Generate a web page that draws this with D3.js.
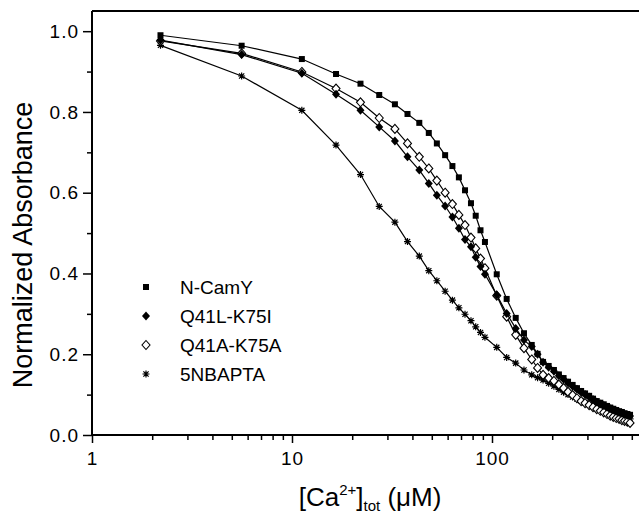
<!DOCTYPE html>
<html>
<head>
<meta charset="utf-8">
<script src="https://cdnjs.cloudflare.com/ajax/libs/d3/7.8.5/d3.min.js"></script>
<style>
  body { margin: 0; background: #fff; }
  svg { display: block; font-family: "Liberation Sans", Arial, sans-serif; }
  .axis path, .axis line { stroke: #000; }
  .axis text { font-size: 19px; fill: #000; letter-spacing: 1px; }
  .series-line { fill: none; stroke: #000; stroke-width: 1.2; }
</style>
</head>
<body>
<div id="figure"></div>
<script>
// titration points, total Ca (uM)
const caTotal = [2.2, 5.6, 11.2, 16.6, 22.0, 27.3, 32.7, 37.8, 43.3, 48.3,
  53.0, 58.3, 63.4, 68.3, 73.3, 78.5, 82.9, 87.6, 92.2, 105.6,
  118.4, 131.4, 144.5, 158, 169, 180, 192, 204, 216, 228,
  240, 253, 266, 279, 292, 306, 320, 334, 348, 362,
  376, 390, 404, 418, 432, 446, 460, 475, 490];

const nCamY = [0.990, 0.964, 0.931, 0.894, 0.870, 0.842, 0.819, 0.795, 0.773, 0.748,
  0.722, 0.693, 0.666, 0.638, 0.606, 0.574, 0.543, 0.507, 0.478, 0.398,
  0.337, 0.290, 0.252, 0.223, 0.201, 0.181, 0.171, 0.161, 0.150, 0.141,
  0.132, 0.124, 0.116, 0.109, 0.103, 0.097, 0.090, 0.084, 0.080, 0.076,
  0.072, 0.068, 0.065, 0.062, 0.059, 0.057, 0.054, 0.052, 0.050];

const q41lK75i = [0.978, 0.942, 0.896, 0.844, 0.804, 0.763, 0.728, 0.689, 0.656, 0.623,
  0.594, 0.567, 0.540, 0.512, 0.484, 0.466, 0.440, 0.417, 0.398, 0.347,
  0.301, 0.264, 0.235, 0.219, 0.200, 0.180, 0.168, 0.158, 0.147, 0.138,
  0.129, 0.121, 0.113, 0.106, 0.100, 0.094, 0.088, 0.082, 0.077, 0.073,
  0.069, 0.065, 0.062, 0.059, 0.056, 0.054, 0.051, 0.049, 0.047];

const q41aK75a = [0.976, 0.945, 0.899, 0.858, 0.824, 0.785, 0.758, 0.722, 0.689, 0.660,
  0.630, 0.600, 0.572, 0.545, 0.520, 0.489, 0.462, 0.437, 0.413, 0.345,
  0.293, 0.248, 0.215, 0.187, 0.166, 0.149, 0.141, 0.134, 0.125, 0.116,
  0.107, 0.099, 0.091, 0.084, 0.079, 0.074, 0.069, 0.064, 0.060, 0.056,
  0.052, 0.048, 0.045, 0.042, 0.040, 0.037, 0.035, 0.033, 0.030];

const nbapta5 = [0.965, 0.889, 0.804, 0.718, 0.645, 0.566, 0.527, 0.479, 0.443, 0.407,
  0.382, 0.356, 0.334, 0.315, 0.299, 0.283, 0.268, 0.254, 0.242, 0.217,
  0.192, 0.178, 0.161, 0.149, 0.142, 0.136, 0.128, 0.121, 0.113, 0.106,
  0.100, 0.094, 0.089, 0.084, 0.079, 0.075, 0.071, 0.067, 0.063, 0.059,
  0.056, 0.053, 0.051, 0.048, 0.047, 0.045, 0.043, 0.041, 0.040];

const seriesNames = ['N-CamY', 'Q41L-K75I', 'Q41A-K75A', '5NBAPTA'];
const seriesSymbols = ['square', 'diamond', 'openDiamond', 'star'];

const yMajorTicks = [0.0, 0.2, 0.4, 0.6, 0.8, 1.0];
const yMinorTicks = [0.1, 0.3, 0.5, 0.7, 0.9];
const xMajorTicks = [1, 10, 100];
const xMinorTicks = [2, 3, 4, 5, 6, 7, 8, 9, 20, 30, 40, 50, 60, 70, 80, 90, 200, 300, 400, 500];

let seriesValues = [nCamY, q41lK75i, q41aK75a, nbapta5];

var margin = {top: 11, right: 0, bottom: 82, left: 92};
var fullWidth = 639, fullHeight = 517;
var width = fullWidth - margin.left - margin.right;
var height = fullHeight - margin.top - margin.bottom;

var xScale = d3.scaleLog()
  .domain([1, Math.pow(10, width / 200)])
  .range([0, width]);

var yScale = d3.scaleLinear()
  .domain([0, 1.05])
  .range([height, 0]);

var svg = d3.select('#figure')
  .append('svg')
  .attr('width', fullWidth)
  .attr('height', fullHeight)
  .append('g')
  .attr('transform', `translate(${margin.left},${margin.top})`);

// frame top line
svg.append('line')
  .attr('x1', 0).attr('x2', width + 2)
  .attr('y1', 0).attr('y2', 0)
  .attr('stroke', '#000').attr('stroke-width', 2);

// minor ticks
svg.append('g')
  .attr('class', 'axis y minor')
  .call(d3.axisLeft(yScale).tickValues(yMinorTicks).tickSize(5).tickFormat(''))
  .call(g => g.select('.domain').remove())
  .selectAll('line').attr('stroke-width', 1.5);

svg.append('g')
  .attr('class', 'axis x minor')
  .attr('transform', `translate(0,${height})`)
  .call(d3.axisBottom(xScale).tickValues(xMinorTicks).tickSize(5).tickFormat(''))
  .call(g => g.select('.domain').remove())
  .selectAll('line').attr('stroke-width', 1.5);

// major ticks + labels
var yAxis = svg.append('g')
  .attr('class', 'axis y')
  .call(d3.axisLeft(yScale).tickValues(yMajorTicks).tickSize(9).tickSizeOuter(0)
    .tickPadding(4).tickFormat(d3.format('.1f')));
yAxis.select('.domain').attr('stroke-width', 2)
  .attr('d', `M0,${height}V${yScale(1.05)}`);
yAxis.selectAll('line').attr('stroke-width', 1.5);

var xAxis = svg.append('g')
  .attr('class', 'axis x')
  .attr('transform', `translate(0,${height})`)
  .call(d3.axisBottom(xScale).tickValues(xMajorTicks).tickSize(8).tickSizeOuter(0)
    .tickPadding(9).tickFormat(d3.format('d')));
xAxis.select('.domain').attr('stroke-width', 2)
  .attr('d', `M0,0H${width + 2}`);
xAxis.selectAll('line').attr('stroke-width', 1.5);

// axis titles
svg.append('text')
  .attr('transform', `translate(${23 - margin.left},${245 - margin.top}) rotate(-90)`)
  .attr('text-anchor', 'middle')
  .attr('dominant-baseline', 'central')
  .style('font-size', '27px')
  .text('Normalized Absorbance');

var xTitle = svg.append('text')
  .attr('x', 370 - margin.left)
  .attr('y', 506 - margin.top)
  .attr('text-anchor', 'middle')
  .style('font-size', '26px');
xTitle.append('tspan').text('[Ca');
xTitle.append('tspan').attr('dy', -11).style('font-size', '15px').text('2+');
xTitle.append('tspan').attr('dy', 11).text(']');
xTitle.append('tspan').attr('dy', 5).style('font-size', '15px').text('tot');
xTitle.append('tspan').attr('dy', -5).text(' (\u03bcM)');

// symbols
var drawSymbol = (g, kind) => {
  if(kind === 'square'){
    g.append('rect').attr('x', -3).attr('y', -3).attr('width', 6).attr('height', 6)
      .attr('fill', '#000');
  }else if(kind === 'diamond'){
    g.append('path').attr('d', 'M0,-4.5L4,0L0,4.5L-4,0Z').attr('fill', '#000');
  }else if(kind === 'openDiamond'){
    g.append('path').attr('d', 'M0,-4.5L4,0L0,4.5L-4,0Z')
      .attr('fill', '#fff').attr('stroke', '#000').attr('stroke-width', 1.1);
  }else if(kind === 'star'){
    g.append('path').attr('d', 'M-3.5,0H3.5M0,-3.5V3.5M-2.6,-2.6L2.6,2.6M-2.6,2.6L2.6,-2.6')
      .attr('stroke', '#000').attr('stroke-width', 1.2).attr('fill', 'none');
  }
};

let line = d3.line()
  .x(d => xScale(d.x))
  .y(d => yScale(d.y));

var dataArea = svg.append('g').attr('class', 'data-area');
// draw from back to front: 5NBAPTA, open, filled diamond, squares
[3, 2, 1, 0].forEach(i => {
  let pts = caTotal.map((c, j) => ({x: c, y: seriesValues[i][j]}));
  let g = dataArea.append('g');
  g.append('path').datum(pts).attr('class', 'series-line').attr('d', line);
  g.selectAll('g.pt').data(pts).enter().append('g')
    .attr('class', 'pt')
    .attr('transform', d => `translate(${xScale(d.x)},${yScale(d.y)})`)
    .each(function(){ drawSymbol(d3.select(this), seriesSymbols[i]); });
});

// legend
var legend = svg.append('g')
  .attr('transform', `translate(${146 - margin.left},${287 - margin.top})`);
seriesNames.forEach((name, i) => {
  let row = legend.append('g').attr('transform', `translate(0,${i * 29})`);
  drawSymbol(row, seriesSymbols[i]);
  row.append('text')
    .attr('x', 34)
    .attr('dominant-baseline', 'central')
    .style('font-size', '19px')
    .text(name);
});
</script>
</body>
</html>
